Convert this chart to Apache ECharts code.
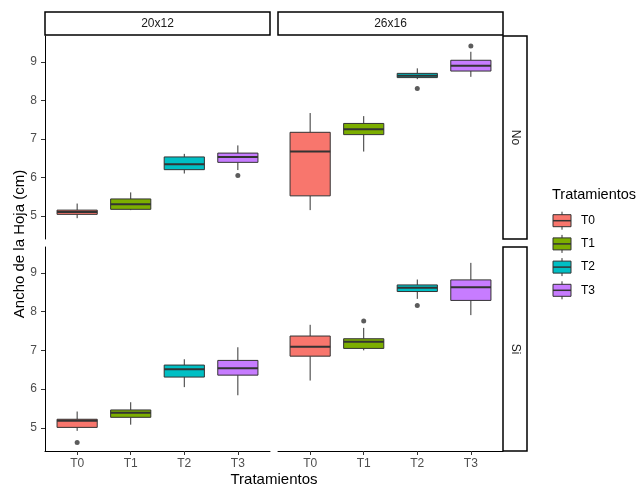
<!DOCTYPE html>
<html>
<head>
<meta charset="utf-8">
<script src="https://cdn.jsdelivr.net/npm/echarts@6/dist/echarts.min.js"></script>
<style>html,body{margin:0;padding:0;background:#fff;}#c{width:639px;height:489px;}</style>
</head>
<body>
<div id="c"></div>
<script>
// ---- data ----
const categories = ['T0', 'T1', 'T2', 'T3'];
const columns = ['20x12', '26x16'];
const rows = ['No', 'Si'];
const yTicks = [5, 6, 7, 8, 9];
const palette = ['#F8766D', '#7CAE00', '#00BFC4', '#C77CFF'];
// each box: [lower whisker, Q1, median, Q3, upper whisker]
const box_20x12_No = [[4.94, 5.04, 5.10, 5.15, 5.32], [5.15, 5.17, 5.30, 5.44, 5.61], [6.10, 6.20, 6.34, 6.53, 6.61], [6.19, 6.39, 6.53, 6.63, 6.83]];
const box_26x16_No = [[5.15, 5.52, 6.67, 7.17, 7.67], [6.67, 7.11, 7.25, 7.40, 7.59], [8.55, 8.59, 8.64, 8.70, 8.83], [8.61, 8.76, 8.90, 9.04, 9.26]];
const box_20x12_Si = [[4.92, 5.01, 5.18, 5.22, 5.42], [5.08, 5.27, 5.39, 5.46, 5.66], [6.05, 6.31, 6.51, 6.62, 6.77], [5.84, 6.36, 6.54, 6.74, 7.08]];
const box_26x16_Si = [[6.22, 6.85, 7.09, 7.37, 7.66], [7.00, 7.05, 7.22, 7.30, 7.58], [8.33, 8.52, 8.62, 8.69, 8.83], [7.91, 8.29, 8.63, 8.82, 9.26]];
// outliers: [treatment index, value]
const out_20x12_No = [[3, 6.05]];
const out_26x16_No = [[2, 8.31], [3, 9.41]];
const out_20x12_Si = [[0, 4.62]];
const out_26x16_Si = [[1, 7.76], [2, 8.16]];

// ---- layout ----
const FONT = '"Liberation Sans", Arial, sans-serif';
const panels = [
  { box: box_20x12_No, out: out_20x12_No, left: 45, top: 36, height: 203, row: 0, col: 0 },
  { box: box_26x16_No, out: out_26x16_No, left: 278, top: 36, height: 203, row: 0, col: 1 },
  { box: box_20x12_Si, out: out_20x12_Si, left: 45, top: 247, height: 204, row: 1, col: 0 },
  { box: box_26x16_Si, out: out_26x16_Si, left: 278, top: 247, height: 204, row: 1, col: 1 }
];
const PW = 225;

const grids = [], xAxes = [], yAxes = [], series = [];
panels.forEach((p, gi) => {
  grids.push({ left: p.left, top: p.top, width: PW, height: p.height, containLabel: false });
  const bottom = p.row === 1;
  xAxes.push({
    type: 'value', gridIndex: gi, min: 0.4, max: 4.6,
    show: bottom,
    axisLine: { show: bottom, onZero: false, lineStyle: { color: '#000', width: 1 } },
    axisTick: { show: bottom, customValues: [1, 2, 3, 4], length: 4, lineStyle: { color: '#333' } },
    axisLabel: { show: bottom, customValues: [1, 2, 3, 4], formatter: v => categories[Math.round(v) - 1], color: '#4D4D4D', fontSize: 12, fontFamily: FONT, margin: 7 },
    splitLine: { show: false }
  });
  const leftCol = p.col === 0;
  yAxes.push({
    type: 'value', gridIndex: gi, min: 4.4, max: 9.67,
    show: leftCol,
    axisLine: { show: leftCol, onZero: false, lineStyle: { color: '#000', width: 1 } },
    axisTick: { show: leftCol, customValues: yTicks, length: 4, lineStyle: { color: '#333' } },
    axisLabel: { show: leftCol, customValues: yTicks, color: '#4D4D4D', fontSize: 12, fontFamily: FONT, margin: 8 },
    splitLine: { show: false }
  });
  series.push({
    type: 'custom', xAxisIndex: gi, yAxisIndex: gi,
    data: p.box.map((b, i) => [i + 1].concat(b)),
    renderItem: (params, api) => {
      const x = api.value(0);
      const pl = api.coord([x, api.value(1)]);
      const p1 = api.coord([x, api.value(2)]);
      const pm = api.coord([x, api.value(3)]);
      const p3 = api.coord([x, api.value(4)]);
      const ph = api.coord([x, api.value(5)]);
      const hw = api.size([0.75, 0])[0] / 2;
      const cx = pl[0];
      const color = palette[params.dataIndex];
      return {
        type: 'group',
        children: [
          { type: 'line', shape: { x1: cx, y1: pl[1], x2: cx, y2: p1[1] }, style: { stroke: '#333', lineWidth: 1 } },
          { type: 'line', shape: { x1: cx, y1: p3[1], x2: cx, y2: ph[1] }, style: { stroke: '#333', lineWidth: 1 } },
          { type: 'rect', shape: { x: cx - hw, y: p3[1], width: 2 * hw, height: p1[1] - p3[1] }, style: { fill: color, stroke: '#333', lineWidth: 1 } },
          { type: 'line', shape: { x1: cx - hw, y1: pm[1], x2: cx + hw, y2: pm[1] }, style: { stroke: '#333', lineWidth: 2 } }
        ]
      };
    }
  });
  series.push({
    type: 'scatter', xAxisIndex: gi, yAxisIndex: gi,
    data: p.out.map(o => [o[0] + 1, o[1]]),
    symbol: 'circle', symbolSize: 5,
    itemStyle: { color: '#333' }, z: 5
  });
});

// ---- strips, titles, legend ----
const graphic = [];
columns.forEach((c, i) => {
  const x = i === 0 ? 45 : 278;
  graphic.push({ type: 'rect', shape: { x: x, y: 12, width: PW, height: 23 }, style: { fill: '#fff', stroke: '#000', lineWidth: 1.5 } });
  graphic.push({ type: 'text', x: x + PW / 2, y: 24, style: { text: c, fill: '#1A1A1A', font: '12px ' + FONT, align: 'center', verticalAlign: 'middle' } });
});
rows.forEach((r, i) => {
  const top = i === 0 ? 36 : 247;
  const h = i === 0 ? 203 : 204;
  graphic.push({ type: 'rect', shape: { x: 503, y: top, width: 24, height: h }, style: { fill: '#fff', stroke: '#000', lineWidth: 1.5 } });
  graphic.push({ type: 'text', x: 515, y: top + h / 2, rotation: -Math.PI / 2, style: { text: r, fill: '#1A1A1A', font: '12px ' + FONT, align: 'center', verticalAlign: 'middle' } });
});
graphic.push({ type: 'text', x: 274, y: 480, style: { text: 'Tratamientos', fill: '#000', font: '15px ' + FONT, align: 'center', verticalAlign: 'middle' } });
graphic.push({ type: 'text', x: 20, y: 244, rotation: Math.PI / 2, style: { text: 'Ancho de la Hoja (cm)', fill: '#000', font: '15px ' + FONT, align: 'center', verticalAlign: 'middle' } });
graphic.push({ type: 'text', x: 552, y: 195, style: { text: 'Tratamientos', fill: '#000', font: '14.5px ' + FONT, align: 'left', verticalAlign: 'middle' } });
categories.forEach((c, i) => {
  const cy = 220.7 + i * 23.2;
  graphic.push({ type: 'line', shape: { x1: 562, y1: cy - 9, x2: 562, y2: cy + 9 }, style: { stroke: '#333', lineWidth: 1 } });
  graphic.push({ type: 'rect', shape: { x: 553, y: cy - 6, width: 18, height: 12 }, style: { fill: palette[i], stroke: '#333', lineWidth: 1 } });
  graphic.push({ type: 'line', shape: { x1: 553, y1: cy, x2: 571, y2: cy }, style: { stroke: '#333', lineWidth: 1.5 } });
  graphic.push({ type: 'text', x: 581, y: cy, style: { text: c, fill: '#000', font: '12px ' + FONT, align: 'left', verticalAlign: 'middle' } });
});

const chart = echarts.init(document.getElementById('c'), null, { renderer: 'canvas' });
chart.setOption({
  backgroundColor: '#fff',
  animation: false,
  grid: grids, xAxis: xAxes, yAxis: yAxes, series: series,
  graphic: graphic
});
</script>
</body>
</html>
